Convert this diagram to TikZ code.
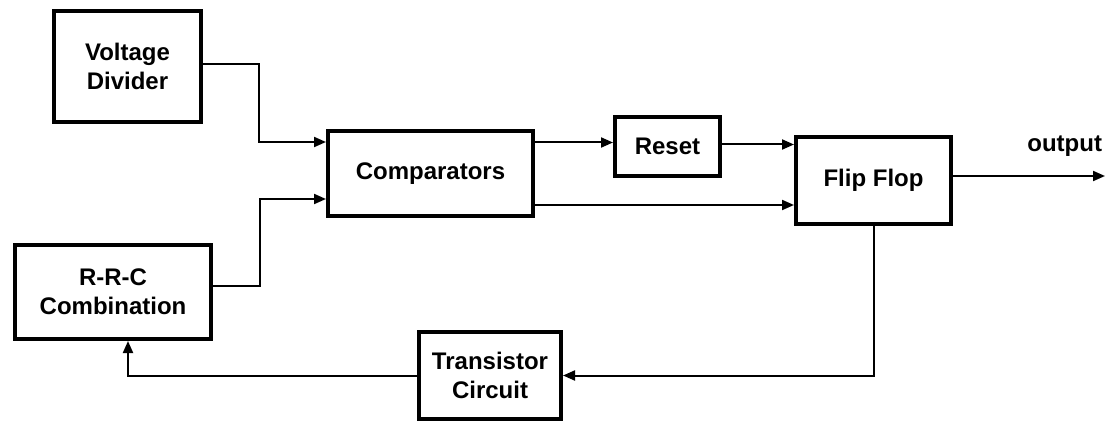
\documentclass[tikz,border=0pt]{standalone}
\usepackage{fontspec}
\setmainfont{Liberation Sans}
\usepackage{tikz}
\usetikzlibrary{arrows.meta,positioning,calc}

\begin{document}
\begin{tikzpicture}[x=1pt,y=-1pt,
  font=\fontsize{24}{29}\selectfont\bfseries,
  block/.style={draw,line width=4pt,align=center,inner sep=0pt},
  flow/.style={line width=2pt,-{Triangle[length=12pt,width=10pt]}}]
\useasboundingbox (0,0) rectangle (1109,425);
\node[block,minimum width=147,minimum height=111] (vdiv) at (127.5,66.5) {Voltage\\Divider};
\node[block,minimum width=205,minimum height=85] (comp) at (430.5,173.5) {Comparators};
\node[block,minimum width=105,minimum height=59] (rst) at (667.5,146.5) {Reset};
\node[block,minimum width=155,minimum height=87] (ff) at (873.5,180.5) {Flip Flop};
\node[block,minimum width=196,minimum height=94] (rrc) at (113,292) {R-R-C\\Combination};
\node[block,minimum width=142,minimum height=87] (trans) at (490,375.5) {Transistor\\Circuit};
\draw[flow] ([yshift=2.5pt]vdiv.east) -- ++(56,0) |- ([yshift=31.5pt]comp.west);
\draw[flow] ([yshift=6pt]rrc.east) -- ++(47,0) |- ([yshift=-25.5pt]comp.west);
\draw[flow] ([yshift=31pt]comp.east) -- ([yshift=31pt]comp.east -| rst.west);
\draw[flow] ([yshift=2pt]rst.east) -- ([yshift=2pt]rst.east -| ff.west);
\draw[flow] ([yshift=-31.5pt]comp.east) -- ([yshift=-31.5pt]comp.east -| ff.west);
\draw[flow] ([yshift=4.5pt]ff.east) -- ++(152,0)
  node[anchor=base east,inner sep=0pt,xshift=-2pt,yshift=24pt] (outlbl) {output};
\draw[flow] (ff.south) |- (trans.east);
\draw[flow] (trans.west) -| ([xshift=15pt]rrc.south);
\end{tikzpicture}
\end{document}
